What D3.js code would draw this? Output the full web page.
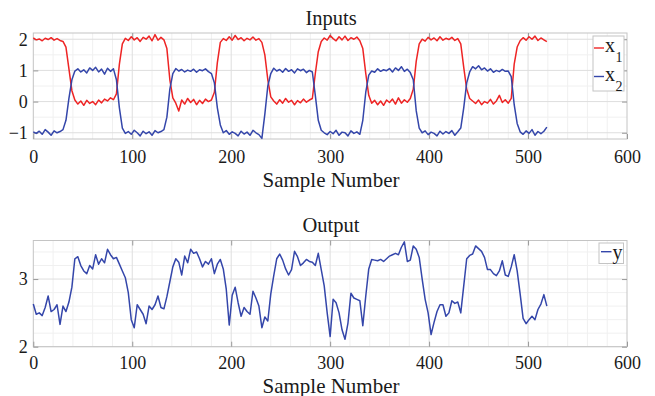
<!DOCTYPE html>
<html>
<head>
<meta charset="utf-8">
<script src="https://cdn.jsdelivr.net/npm/d3@7"></script>
<style>
  body { margin: 0; background: #fff; }
  text { font-family: "Liberation Serif", "Times New Roman", serif; fill: #1a1a1a; }
</style>
</head>
<body>
<div id="chart"></div>
<script>
// readings are taken every 3rd sample (0, 3, 6, ... 519)
const sampleStep = 3;

const x1Values = [
  2.04, 1.98, 2.01, 1.95, 2.03, 1.99, 2.05, 1.97, 2.02, 1.96,
  1.93, 1.75, 1.05, 0.35, 0.05, -0.08, 0.02, -0.12, 0.04, -0.06,
  0.0, -0.1, 0.05, -0.04, 0.08, 0.02, 0.12, 0.06, 0.25, 1.2,
  1.85, 2.03, 1.96, 2.08, 1.98, 2.05, 1.93, 2.06, 2.0, 2.1,
  1.95, 2.15, 1.97, 2.06, 1.98, 1.7, 0.7, 0.12, -0.05, -0.3,
  0.05, -0.08, 0.1, -0.03, 0.07, -0.1, 0.04, -0.06, 0.08, 0.0,
  0.05, 0.3, 1.25, 1.9, 2.02, 1.96, 2.08, 1.97, 2.12, 1.99,
  2.05, 1.95, 2.03, 1.98, 2.07, 1.97, 2.02, 1.9, 1.5, 0.7,
  0.15, 0.02, -0.08, 0.06, -0.05, 0.1, -0.02, 0.04, -0.1, 0.03,
  -0.04, 0.08, -0.02, 0.05, 0.1, 0.9, 1.6, 1.93, 2.04, 1.97,
  2.12, 2.02, 1.95, 2.08, 1.98, 2.1, 1.96, 2.05, 2.0, 2.07,
  1.95, 1.7, 0.9, 0.2, -0.05, 0.04, -0.1, 0.02, -0.12, 0.05,
  -0.03, 0.08, -0.08, 0.12, -0.05, 0.06, -0.02, 0.1, 0.4, 1.3,
  1.85, 2.0, 1.94, 2.06, 1.98, 2.04, 1.95, 2.08, 1.97, 2.03,
  1.99, 2.06, 1.96, 2.02, 1.85, 1.1, 0.4, 0.1, 0.02, -0.06,
  0.05, -0.1, 0.0, -0.05, 0.07, -0.08, 0.02, 0.2, -0.03, 0.06,
  -0.05, 0.1, 1.2, 1.75, 1.95, 2.05, 1.97, 2.08, 2.0, 2.1,
  1.96, 2.04, 1.98, 1.92
];

const x2Values = [
  -0.97, -1.02, -0.95, -1.05, -0.9, -0.98, -1.08, -0.94, -1.0, -0.96,
  -0.9, -0.6, 0.1, 0.7, 0.98, 1.05, 0.95, 1.02, 0.92, 1.08,
  1.0, 1.1, 0.95, 1.04, 0.88, 1.07, 0.97, 1.05, 0.7, -0.2,
  -0.85, -1.02, -0.96, -1.05, -0.92, -1.0, -1.1, -0.95, -1.03, -0.97,
  -1.08, -0.93, -1.0, -0.96, -0.9, -0.5, 0.4, 0.9, 1.06, 0.98,
  1.03, 0.95, 1.01, 0.97, 1.04, 0.94, 1.02, 0.99, 1.05, 0.96,
  0.9, 0.6, -0.2, -0.75, -1.0, -0.93, -1.05, -0.97, -1.02, -1.1,
  -0.95, -1.04, -0.98, -1.08, -0.92, -1.0, -1.06, -1.18, -0.4, 0.5,
  0.9, 1.07, 0.98, 1.03, 0.94, 1.06, 0.97, 1.02, 0.92, 1.05,
  0.99, 1.04, 0.93, 1.0, 0.95, 0.2, -0.6, -0.92, -1.0, -1.06,
  -0.96, -1.03, -0.92, -1.08, -0.98, -1.0, -1.1, -0.94, -1.02, -0.97,
  -1.05, -0.6, 0.3, 0.85, 0.98, 0.94, 1.05, 0.97, 1.02, 0.99,
  1.06, 0.95, 1.08, 1.0, 1.12, 0.97, 1.04, 0.93, 0.7, -0.3,
  -0.85, -1.0, -0.94, -1.06, -0.98, -1.02, -1.1, -0.95, -1.04, -0.96,
  -1.02, -0.93, -1.08, -0.97, -0.85, -0.2, 0.6, 0.95, 1.12, 1.05,
  1.15, 1.02, 1.08, 0.98, 1.05, 0.94, 1.0, 0.96, 1.03, 0.97,
  0.98, 0.8, -0.1, -0.7, -0.97, -1.05, -0.94, -1.02, -0.9, -1.08,
  -0.96, -1.03, -0.95, -0.82
];

const yValues = [
  2.63, 2.48, 2.50, 2.46, 2.58, 2.75, 2.52, 2.55, 2.62, 2.33,
  2.60, 2.52, 2.66, 2.88, 3.30, 3.33, 3.20, 3.12, 3.08, 3.20,
  3.15, 3.36, 3.22, 3.30, 3.24, 3.44, 3.36, 3.30, 3.32, 3.22,
  3.12, 3.02, 2.80, 2.40, 2.28, 2.62, 2.55, 2.48, 2.34, 2.60,
  2.55, 2.62, 2.75, 2.58, 2.56, 2.74, 2.96, 3.18, 3.30, 3.25,
  3.06, 3.34, 3.24, 3.44, 3.38, 3.40, 3.30, 3.18, 3.26, 3.22,
  3.30, 3.08, 3.22, 3.29, 3.15, 2.85, 2.32, 2.76, 2.88, 2.65,
  2.45, 2.58, 2.52, 2.48, 2.82, 2.72, 2.60, 2.28, 2.44, 2.38,
  2.78, 3.05, 3.30, 3.37, 3.28, 3.15, 3.06, 3.14, 3.41, 3.33,
  3.20, 3.24, 3.29, 3.26, 3.25, 3.20, 3.38, 3.14, 2.90, 2.50,
  2.15, 2.70, 2.65, 2.50, 2.25, 2.11, 2.35, 2.79, 2.72, 2.70,
  2.68, 2.31, 2.75, 3.15, 3.29, 3.28, 3.27, 3.29, 3.26, 3.30,
  3.34, 3.36, 3.38, 3.36, 3.47, 3.55, 3.26, 3.28, 3.49, 3.44,
  3.32, 3.00, 2.70, 2.50, 2.18, 2.36, 2.52, 2.62, 2.62, 2.45,
  2.50, 2.68, 2.64, 2.66, 2.50, 2.90, 3.30, 3.35, 3.37, 3.49,
  3.45, 3.41, 3.32, 3.14, 3.14, 3.08, 3.05, 3.12, 3.27, 3.06,
  3.04, 3.18, 3.36, 3.12, 2.78, 2.42, 2.34, 2.40, 2.45, 2.40,
  2.55, 2.63, 2.77, 2.60
];

const xTicks = [0, 100, 200, 300, 400, 500, 600];
const inputTicks = [-1, 0, 1, 2];
const outputTicks = [2, 3];

const width = 655;
const height = 396;

const svg = d3.select("#chart")
    .append("svg")
    .attr("width", width)
    .attr("height", height);

// one subplot with box, grid, ticks, title, x label and its lines
function drawPanel(p) {
    const x = d3.scaleLinear().domain([0, 600]).range([33.3, 627]);
    const y = d3.scaleLinear().domain(p.yDomain).range([p.bottom, p.top]);
    const g = svg.append("g");

    // minor grid
    g.append("g").selectAll("line")
        .data(d3.range(20, 600, 20).filter(v => v % 100 !== 0))
        .enter().append("line")
        .attr("x1", d => x(d)).attr("x2", d => x(d))
        .attr("y1", p.top).attr("y2", p.bottom)
        .attr("stroke", "#f0f0f0");
    g.append("g").selectAll("line")
        .data(p.minorY)
        .enter().append("line")
        .attr("x1", x(0)).attr("x2", x(600))
        .attr("y1", d => y(d)).attr("y2", d => y(d))
        .attr("stroke", "#f0f0f0");

    // major grid
    g.append("g").selectAll("line")
        .data(xTicks.slice(1, -1))
        .enter().append("line")
        .attr("x1", d => x(d)).attr("x2", d => x(d))
        .attr("y1", p.top).attr("y2", p.bottom)
        .attr("stroke", "#dedede");
    g.append("g").selectAll("line")
        .data(p.yTicks)
        .enter().append("line")
        .attr("x1", x(0)).attr("x2", x(600))
        .attr("y1", d => y(d)).attr("y2", d => y(d))
        .attr("stroke", "#dedede");

    // box
    g.append("rect")
        .attr("x", x(0)).attr("y", p.top)
        .attr("width", x(600) - x(0)).attr("height", p.bottom - p.top)
        .attr("fill", "none").attr("stroke", "#c4c4c4");

    // axes (ticks pointing inwards)
    const styleAxis = sel => {
        sel.select(".domain").remove();
        sel.selectAll(".tick line").attr("stroke", "#999");
        sel.selectAll("text").style("font-size", "18px")
            .style("font-family", "'Liberation Serif', 'Times New Roman', serif")
            .attr("fill", "#1a1a1a");
    };
    g.append("g")
        .attr("transform", `translate(0,${p.bottom})`)
        .call(d3.axisBottom(x).tickValues(xTicks).tickSizeInner(-5).tickSizeOuter(0).tickPadding(p.xPad))
        .call(styleAxis);
    g.append("g")
        .attr("transform", `translate(0,${p.top})`)
        .call(d3.axisTop(x).tickValues(xTicks.slice(1, -1)).tickSizeInner(-5).tickSizeOuter(0).tickFormat(""))
        .call(styleAxis);
    g.append("g")
        .attr("transform", `translate(${x(0)},0)`)
        .call(d3.axisLeft(y).tickValues(p.yTicks).tickSizeInner(-5).tickSizeOuter(0).tickPadding(5.5).tickFormat(d3.format("d")))
        .call(styleAxis);
    g.append("g")
        .attr("transform", `translate(${x(600)},0)`)
        .call(d3.axisRight(y).tickValues(p.yTicks).tickSizeInner(-5).tickSizeOuter(0).tickFormat(""))
        .call(styleAxis);

    // data lines
    const line = d3.line()
        .x((d, i) => x(i * sampleStep))
        .y(d => y(d));
    p.series.forEach(s => {
        g.append("path")
            .datum(s.values)
            .attr("fill", "none")
            .attr("stroke", s.color)
            .attr("stroke-width", 1.5)
            .attr("stroke-linejoin", "round")
            .attr("d", line);
    });

    // title and x label
    g.append("text")
        .attr("x", 331).attr("y", p.titleY)
        .attr("text-anchor", "middle")
        .style("font-size", "20.5px")
        .text(p.title);
    g.append("text")
        .attr("x", 331).attr("y", p.labelY)
        .attr("text-anchor", "middle")
        .style("font-size", "21px")
        .text("Sample Number");
}

const red = "#ee2424";
const blue = "#3446aa";

drawPanel({
    title: "Inputs", titleY: 25, labelY: 187,
    top: 33, bottom: 139, yDomain: [-1.2, 2.2],
    yTicks: inputTicks, minorY: [-0.5, 0.5, 1.5], xPad: 11,
    series: [
        { values: x1Values, color: red },
        { values: x2Values, color: blue }
    ]
});

drawPanel({
    title: "Output", titleY: 231.5, labelY: 392.5,
    top: 240.5, bottom: 346.7, yDomain: [2, 3.57],
    yTicks: outputTicks, minorY: [2.2, 2.4, 2.6, 2.8, 3.2, 3.4], xPad: 9.5,
    series: [
        { values: yValues, color: blue }
    ]
});

// Legends
const legendTop = svg.append("g");
legendTop.append("rect")
    .attr("x", 593).attr("y", 36).attr("width", 31).attr("height", 55)
    .attr("fill", "#fff").attr("stroke", "#c4c4c4");
[{ name: "x", sub: "1", color: red, y: 48 }, { name: "x", sub: "2", color: blue, y: 76.5 }].forEach(e => {
    legendTop.append("line")
        .attr("x1", 594).attr("x2", 604).attr("y1", e.y).attr("y2", e.y)
        .attr("stroke", e.color).attr("stroke-width", 1.4);
    legendTop.append("text")
        .attr("x", 605).attr("y", e.y + 4)
        .style("font-size", "20px").text(e.name);
    legendTop.append("text")
        .attr("x", 615.5).attr("y", e.y + 14)
        .style("font-size", "14px").text(e.sub);
});

const legendBottom = svg.append("g");
legendBottom.append("rect")
    .attr("x", 599).attr("y", 243).attr("width", 24.5).attr("height", 20.5)
    .attr("fill", "#fff").attr("stroke", "#c4c4c4");
legendBottom.append("line")
    .attr("x1", 601).attr("x2", 611.5).attr("y1", 251.7).attr("y2", 251.7)
    .attr("stroke", blue).attr("stroke-width", 1.4);
legendBottom.append("text")
    .attr("x", 612.5).attr("y", 258.5)
    .style("font-size", "20px").text("y");
</script>
</body>
</html>
